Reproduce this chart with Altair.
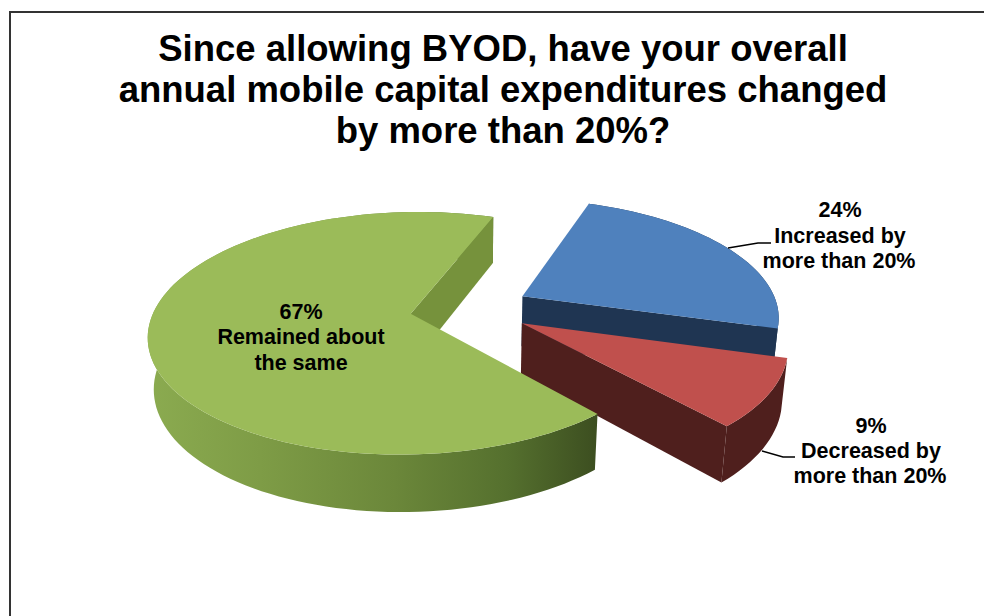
import math
import altair as alt
import pandas as pd

# Survey shares, clockwise from the first slice
categories = ["Increased by more than 20%", "Decreased by more than 20%", "Remained about the same"]
shares = [24, 9, 67]

title_lines = [
    "Since allowing BYOD, have your overall",
    "annual mobile capital expenditures changed",
    "by more than 20%?",
]
label_lines = [
    ["24%", "Increased by", "more than 20%"],
    ["9%", "Decreased by", "more than 20%"],
    ["67%", "Remained about", "the same"],
]

# Camera and pie geometry for the tilted, exploded disc
CENTER_X, CENTER_Y = 470.0, 308.5
RADIUS = 256.0
EXPLODE = 60.0
THICKNESS = 58.0
SIN_TILT = 0.455
COS_TILT = math.sqrt(1 - SIN_TILT ** 2)
CAMERA = 1429.0
FIRST_ANGLE = 70.5


def project(px, py, pz=0.0):
    s = 1.0 / (1.0 + (py * COS_TILT + pz * SIN_TILT) / CAMERA)
    return [CENTER_X + s * px, CENTER_Y + s * (-py * SIN_TILT + pz * COS_TILT)]


def slice_geometry(start, end):
    mid = math.radians((start + end) / 2)
    ax, ay = EXPLODE * math.cos(mid), EXPLODE * math.sin(mid)
    n = max(8, int(abs(end - start) / 2))
    rim = []
    for i in range(n + 1):
        t = math.radians(start + (end - start) * i / n)
        rim.append((ax + RADIUS * math.cos(t), ay + RADIUS * math.sin(t)))
    return (ax, ay), rim


def polygon(points, fill):
    ring = points + [points[0]]
    feature = {"type": "Feature", "properties": {}, "geometry": {"type": "Polygon", "coordinates": [ring]}}
    return alt.Chart(alt.Data(values=[feature])).mark_geoshape(fill=fill, stroke=None, strokeWidth=0).encode()


def top_face(apex, rim):
    return [project(*apex)] + [project(*p) for p in rim]


def outer_wall(rim):
    return [project(*p) for p in rim] + [project(p[0], p[1], THICKNESS) for p in reversed(rim)]


def cut_wall(apex, edge):
    return [project(*apex), project(*edge), project(edge[0], edge[1], THICKNESS), project(apex[0], apex[1], THICKNESS)]


sweeps = [v / sum(shares) * 360 for v in shares]
bounds = [FIRST_ANGLE]
for sweep in sweeps:
    bounds.append(bounds[-1] - sweep)

blue_apex, blue_rim = slice_geometry(bounds[0], bounds[1])
red_apex, red_rim = slice_geometry(bounds[1], bounds[2])
green_apex, green_rim = slice_geometry(bounds[2], bounds[3])

green_shade = alt.Gradient(
    gradient="linear", x1=0, x2=1, y1=0, y2=0,
    stops=[
        alt.GradientStop(color="#8BAB50", offset=0),
        alt.GradientStop(color="#7E9C46", offset=0.25),
        alt.GradientStop(color="#6B873A", offset=0.55),
        alt.GradientStop(color="#55702E", offset=0.8),
        alt.GradientStop(color="#3C4E20", offset=1),
    ],
)

pie_layers = [
    polygon(outer_wall(blue_rim), "#1F3552"),
    polygon(cut_wall(blue_apex, blue_rim[-1]), "#1F3552"),
    polygon(top_face(blue_apex, blue_rim), "#4F81BD"),
    polygon(outer_wall(red_rim), "#4F1F1D"),
    polygon(cut_wall(red_apex, red_rim[-1]), "#4F1F1D"),
    polygon(top_face(red_apex, red_rim), "#C0504D"),
    polygon(outer_wall(green_rim), green_shade),
    polygon(cut_wall(green_apex, green_rim[-1]), "#76923C"),
    polygon(top_face(green_apex, green_rim), "#9BBB59"),
]

# Text placement in pixels
title_rows = pd.DataFrame({"text": title_lines, "px": [503, 503, 503], "py": [61, 102, 143]})
label_rows = pd.DataFrame({
    "text": label_lines[0] + label_lines[1] + label_lines[2],
    "px": [840, 840, 839, 871, 871, 870, 301, 301, 301],
    "py": [217, 243, 268, 433, 458, 483, 319, 344, 370],
})


def text_layer(rows, size):
    return alt.Chart(rows).mark_text(
        font="Liberation Sans", fontWeight="bold", fontSize=size, color="#000000",
        align="center", baseline="alphabetic",
    ).encode(
        x=alt.X("px:Q", scale=None, axis=None),
        y=alt.Y("py:Q", scale=None, axis=None),
        text="text:N",
    )


def leader(points):
    rows = pd.DataFrame({"px": [p[0] for p in points], "py": [p[1] for p in points], "o": range(len(points))})
    return alt.Chart(rows).mark_line(color="#000000", strokeWidth=1.5).encode(
        x=alt.X("px:Q", scale=None, axis=None),
        y=alt.Y("py:Q", scale=None, axis=None),
        order="o:Q",
    )


frame_top = alt.Chart(pd.DataFrame({"a": [0]})).mark_rect(color="#333333").encode(
    x=alt.value(9), x2=alt.value(984), y=alt.value(11), y2=alt.value(13))
frame_left = alt.Chart(pd.DataFrame({"a": [0]})).mark_rect(color="#333333").encode(
    x=alt.value(9), x2=alt.value(11), y=alt.value(11), y2=alt.value(616))

chart = alt.layer(
    frame_top,
    frame_left,
    *pie_layers,
    leader([(728, 248), (758, 243), (771, 243)]),
    leader([(762, 451), (783, 457), (795, 457)]),
    text_layer(title_rows, 36.5),
    text_layer(label_rows, 21.5),
).properties(
    width=984,
    height=616,
    padding=0,
    autosize=alt.AutoSizeParams(type="none"),
    background="#FFFFFF",
    projection=alt.Projection(type="identity", scale=1, translate=[0, 0]),
).configure_view(stroke=None)

chart.save("out.html", embed_options={"renderer": "svg", "actions": False})
